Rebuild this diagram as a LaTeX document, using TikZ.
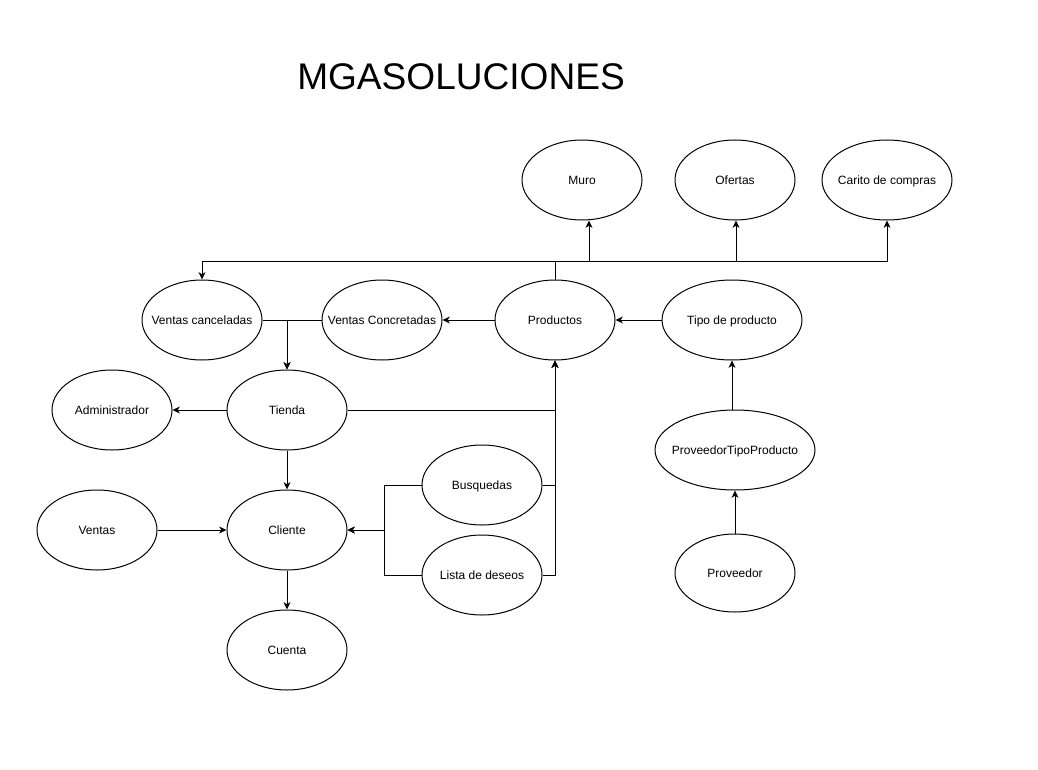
\documentclass[tikz,border=0pt]{standalone}
\usepackage{fontspec}
\setmainfont{Liberation Sans}
\usetikzlibrary{shapes.geometric,arrows.meta}
\newcommand\zbx[1]{\makebox[0pt]{#1}}
\begin{document}
\begin{tikzpicture}[x=0.75pt,y=-0.75pt,
  ent/.style={draw,ellipse,line width=0.75pt,inner sep=0pt,minimum width=90pt,minimum height=60pt,
    text height=6.45pt,text depth=0pt,font=\fontsize{9}{11}\selectfont},
  ln/.style={line width=0.75pt},
  arr/.style={line width=0.75pt,-{Stealth[length=5.5pt,width=5.2pt,inset=1.6pt]}}]
\path[fill=white,use as bounding box] (0,0) rectangle (1038,770);
\node[font=\fontsize{27.8}{32}\selectfont,inner sep=0pt,text height=19.9pt,text depth=0pt] (title) at (461,76) {MGASOLUCIONES};
\node[ent] (muro) at (582,180) {\zbx{Muro}};
\node[ent] (ofer) at (735,180) {\zbx{Ofertas}};
\node[ent,minimum width=97.5pt] (cari) at (887,180) {\zbx{Carito de compras}};
\node[ent] (vcan) at (202,320) {\zbx{Ventas canceladas}};
\node[ent] (vcon) at (382,320) {\zbx{Ventas Concretadas}};
\node[ent] (prod) at (555,320) {\zbx{Productos}};
\node[ent,minimum width=105pt] (tipo) at (732,320) {\zbx{Tipo de producto}};
\node[ent] (admi) at (112,410) {\zbx{Administrador}};
\node[ent] (tien) at (287,410) {\zbx{Tienda}};
\node[ent,minimum width=120pt] (ptp) at (735,450) {\zbx{ProveedorTipoProducto}};
\node[ent] (busq) at (482,485) {\zbx{Busquedas}};
\node[ent] (vent) at (97,530) {\zbx{Ventas}};
\node[ent] (clie) at (287,530) {\zbx{Cliente}};
\node[ent] (list) at (482,575) {\zbx{Lista de deseos}};
\node[ent,minimum height=58.5pt] (prov) at (735,573) {\zbx{Proveedor}};
\node[ent] (cuen) at (287,650) {\zbx{Cuenta}};
% top bus
\coordinate (bus) at (555,261);
\draw[ln] (prod.north) -- (bus);
\draw[arr] (bus) -| (vcan.north);
\draw[arr] (bus) -| ([xshift=5.25pt]muro.south);
\draw[arr] (bus) -| ([xshift=0.75pt]ofer.south);
\draw[arr] (bus) -| (cari.south);
% productos -> ventas concretadas
\draw[arr] (prod.west) -- (vcon.east);
\draw[arr] (tipo.west) -- (prod.east);
% ventas -> tienda
\draw[arr] (vcan.east) -| (tien.north);
\draw[arr] (vcon.west) -| (tien.north);
\draw[arr] (tien.west) -- (admi.east);
% to productos bottom
\draw[arr] (tien.east) -| (prod.south);
\draw[arr] (busq.east) -| (prod.south);
\draw[arr] (list.east) -| (prod.south);
% cliente
\draw[arr] (tien.south) -- (clie.north);
\draw[arr] (vent.east) -- (clie.west);
\coordinate (j2) at (384,530);
\draw[arr] (busq.west) -| (j2) -- (clie.east);
\draw[arr] (list.west) -| (j2) -- (clie.east);
\draw[arr] (clie.south) -- (cuen.north);
% proveedor chain
\draw[arr] (tipo.south |- ptp.north) -- (tipo.south);
\draw[arr] (prov.north) -- (ptp.south);
\end{tikzpicture}
\end{document}
